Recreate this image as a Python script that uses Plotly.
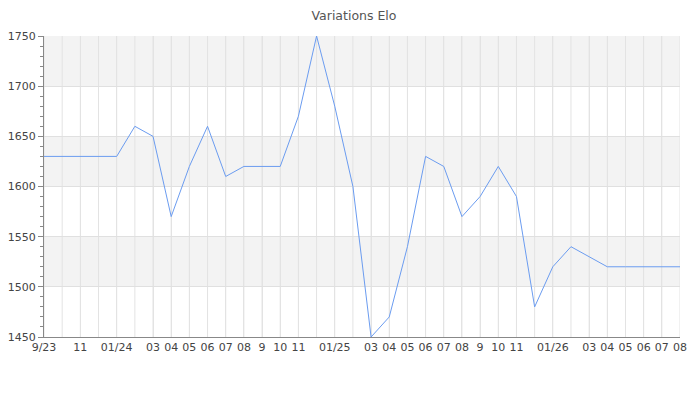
import plotly.graph_objs as go

# Données
months = ['2023-09', '2023-10', '2023-11', '2023-12', '2024-01', '2024-02', '2024-03',
          '2024-04', '2024-05', '2024-06', '2024-07', '2024-08', '2024-09', '2024-10',
          '2024-11', '2024-12', '2025-01', '2025-02', '2025-03', '2025-04', '2025-05',
          '2025-06', '2025-07', '2025-08', '2025-09', '2025-10', '2025-11', '2025-12',
          '2026-01', '2026-02', '2026-03', '2026-04', '2026-05', '2026-06', '2026-07',
          '2026-08']
elo = [1630, 1630, 1630, 1630, 1630, 1660, 1650, 1570, 1620, 1660, 1610, 1620,
       1620, 1620, 1670, 1750, 1680, 1600, 1450, 1470, 1540, 1630, 1620, 1570,
       1590, 1620, 1590, 1480, 1520, 1540, 1530, 1520, 1520, 1520, 1520, 1520]

tick_months = ['2023-09', '2023-11', '2024-01', '2024-03', '2024-04', '2024-05', '2024-06',
               '2024-07', '2024-08', '2024-09', '2024-10', '2024-11', '2025-01', '2025-03',
               '2025-04', '2025-05', '2025-06', '2025-07', '2025-08', '2025-09', '2025-10',
               '2025-11', '2026-01', '2026-03', '2026-04', '2026-05', '2026-06', '2026-07',
               '2026-08']
tick_labels = ['9/23', '11', '01/24', '03', '04', '05', '06', '07', '08', '9', '10', '11',
               '01/25', '03', '04', '05', '06', '07', '08', '9', '10', '11', '01/26', '03',
               '04', '05', '06', '07', '08']

y_ticks = [1450, 1500, 1550, 1600, 1650, 1700, 1750]

fig = go.Figure()

# Bandes grises alternées
for i in range(len(y_ticks) - 1):
    if i % 2 == 1:
        fig.add_shape(type='rect', xref='paper', yref='y', x0=0, x1=1,
                      y0=y_ticks[i], y1=y_ticks[i + 1],
                      fillcolor='#f3f3f3', line_width=0, layer='below')

# Lignes verticales pour chaque mois
for m in months:
    fig.add_shape(type='line', xref='x', yref='paper', x0=m, x1=m, y0=0, y1=1,
                  line=dict(color='#e3e3e3', width=1), layer='below')

fig.add_trace(go.Scatter(
    x=months,
    y=elo,
    mode='lines',
    name='Elo',
    line=dict(color='#6b9cf0', width=1)
))

# la page a une marge de 8px : la figure est réduite d'autant
fig.update_layout(
    title=dict(text='Variations Elo', x=0.5, xanchor='center', xref='container',
               yref='container', y=1, yanchor='top', pad=dict(t=3),
               font=dict(size=12.5, color='#555555')),
    width=692, height=392,
    margin=dict(l=36, r=20, t=28, b=63),
    plot_bgcolor='white',
    paper_bgcolor='white',
    font=dict(family='DejaVu Sans', size=11, color='#444444'),
    showlegend=False
)

fig.update_xaxes(
    type='category',
    range=[0, len(months) - 1],
    tickmode='array', tickvals=tick_months, ticktext=tick_labels,
    showgrid=True, gridcolor='#e3e3e3', gridwidth=1,
    showline=True, linecolor='#888888', linewidth=1,
    ticks='', tickangle=0, automargin=False
)

fig.update_yaxes(
    range=[1450, 1750],
    tickvals=y_ticks,
    showgrid=True, gridcolor='#e0e0e0', gridwidth=1,
    showline=True, linecolor='#888888', linewidth=1,
    ticks='outside', ticklen=5, tickcolor='#888888',
    minor=dict(dtick=10, ticks='outside', ticklen=3, tickcolor='#888888', showgrid=False),
    zeroline=False, automargin=False
)

fig.write_html("out.html")
